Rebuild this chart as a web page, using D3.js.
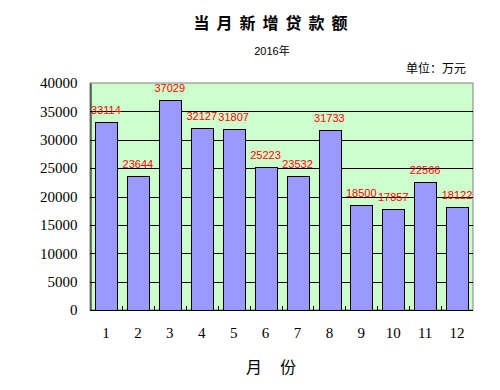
<!DOCTYPE html>
<html>
<head>
<meta charset="utf-8">
<script src="https://cdn.jsdelivr.net/npm/d3@7"></script>
<style>
  body { margin: 0; background: #fff; }
  svg { display: block; }
</style>
</head>
<body>
<svg id="chart"></svg>
<script>
// data
const months = ["1", "2", "3", "4", "5", "6", "7", "8", "9", "10", "11", "12"];
const loans = [33114, 23644, 37029, 32127, 31807, 25223, 23532, 31733, 18500, 17857, 22566, 18122];
const yTicks = [0, 5000, 10000, 15000, 20000, 25000, 30000, 35000, 40000];

const width = 500;
const height = 390;
const margin = { top: 83, right: 27, bottom: 80, left: 90 };

const svg = d3.select("#chart").attr("width", width).attr("height", height);

const x = d3
  .scaleBand()
  .domain(months)
  .range([margin.left, width - margin.right])
  .paddingInner(0.32)
  .paddingOuter(0.16);

const y = d3
  .scaleLinear()
  .domain([0, 40000])
  .range([height - margin.bottom, margin.top]);

// plot background
svg
  .append("rect")
  .attr("x", margin.left)
  .attr("y", margin.top)
  .attr("width", width - margin.right - margin.left)
  .attr("height", height - margin.bottom - margin.top)
  .attr("fill", "#ccffcc")
  .attr("stroke", "#808080")
  .attr("stroke-width", 1);

// horizontal grid
svg
  .selectAll("line.grid")
  .data(yTicks.filter((d) => d > 0 && d < 40000))
  .enter()
  .append("line")
  .attr("class", "grid")
  .attr("x1", margin.left)
  .attr("x2", width - margin.right)
  .attr("y1", (d) => Math.round(y(d)) + 0.5)
  .attr("y2", (d) => Math.round(y(d)) + 0.5)
  .attr("stroke", "#000")
  .attr("stroke-width", 1);

// bars
svg
  .selectAll("rect.bar")
  .data(loans)
  .enter()
  .append("rect")
  .attr("class", "bar")
  .attr("x", (d, i) => Math.round(x(months[i])) + 0.5)
  .attr("y", (d) => Math.round(y(d)) + 0.5)
  .attr("width", Math.round(x.bandwidth()))
  .attr("height", (d) => Math.round(y(0)) - Math.round(y(d)))
  .attr("fill", "#9999ff")
  .attr("stroke", "#000")
  .attr("stroke-width", 1);

// value labels
svg
  .selectAll("text.val")
  .data(loans)
  .enter()
  .append("text")
  .attr("class", "val")
  .attr("x", (d, i) => x(months[i]) + x.bandwidth() / 2)
  .attr("y", (d) => y(d) - 8)
  .attr("text-anchor", "middle")
  .attr("fill", "#ff0000")
  .style("font-family", "'Liberation Sans', Arial, sans-serif")
  .style("font-size", "11px")
  .text((d) => d);

// y axis
const yAxis = d3
  .axisLeft(y)
  .tickValues(yTicks)
  .tickFormat(d3.format("d"))
  .tickSize(0)
  .tickPadding(13);
const gy = svg
  .append("g")
  .attr("transform", `translate(${margin.left + 0.5},0)`)
  .call(yAxis);
gy.select(".domain").attr("stroke", "#000");
gy.selectAll("text")
  .style("font-family", "'Liberation Serif', 'DejaVu Serif', serif")
  .style("font-size", "15px")
  .attr("fill", "#000");

// x axis, ticks at band boundaries pointing up
const step = x.step();
const xEdges = months.slice(1).map((m) => x(m) - (step - x.bandwidth()) / 2);
svg
  .append("line")
  .attr("x1", margin.left)
  .attr("x2", width - margin.right)
  .attr("y1", Math.round(y(0)) + 0.5)
  .attr("y2", Math.round(y(0)) + 0.5)
  .attr("stroke", "#000");
svg
  .selectAll("line.xtick")
  .data(xEdges)
  .enter()
  .append("line")
  .attr("class", "xtick")
  .attr("x1", (d) => Math.round(d) + 0.5)
  .attr("x2", (d) => Math.round(d) + 0.5)
  .attr("y1", Math.round(y(0)))
  .attr("y2", Math.round(y(0)) - 4)
  .attr("stroke", "#000");

svg
  .selectAll("text.xlab")
  .data(months)
  .enter()
  .append("text")
  .attr("class", "xlab")
  .attr("x", (d) => x(d) + x.bandwidth() / 2)
  .attr("y", 338)
  .attr("text-anchor", "middle")
  .style("font-family", "'Liberation Serif', 'DejaVu Serif', serif")
  .style("font-size", "15px")
  .text((d) => d);

// titles
svg
  .append("text")
  .attr("x", 274)
  .attr("y", 29)
  .attr("text-anchor", "middle")
  .style("font-family", "'Noto Sans CJK SC', sans-serif")
  .style("font-size", "16px")
  .style("font-weight", "bold")
  .style("letter-spacing", "7px")
  .text("当月新增贷款额");

svg
  .append("text")
  .attr("x", 272)
  .attr("y", 55)
  .attr("text-anchor", "middle")
  .style("font-family", "'Liberation Sans', 'Noto Sans CJK SC', sans-serif")
  .style("font-size", "11px")
  .text("2016年");

svg
  .append("text")
  .attr("x", 466)
  .attr("y", 73)
  .attr("text-anchor", "end")
  .style("font-family", "'Noto Sans CJK SC', sans-serif")
  .style("font-size", "12px")
  .text("单位：万元");

svg
  .append("text")
  .attr("x", 280)
  .attr("y", 373)
  .attr("text-anchor", "middle")
  .style("font-family", "'Noto Sans CJK SC', sans-serif")
  .style("font-size", "16px")
  .style("letter-spacing", "18px")
  .text("月份");
</script>
</body>
</html>
